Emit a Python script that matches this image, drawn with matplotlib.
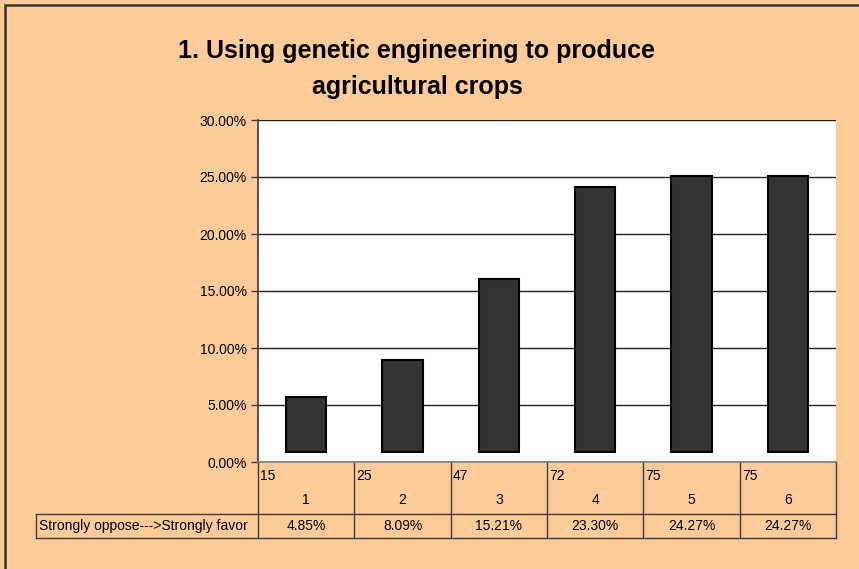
import matplotlib.pyplot as plt
import matplotlib.transforms as mtransforms
from matplotlib.patches import Rectangle
from matplotlib.ticker import FuncFormatter

plt.rcParams['font.family'] = ['Liberation Sans', 'DejaVu Sans']

# survey results
categories = ['1', '2', '3', '4', '5', '6']
counts = [15, 25, 47, 72, 75, 75]
percents = [4.85, 8.09, 15.21, 23.30, 24.27, 24.27]
row_label = 'Strongly oppose--->Strongly favor'
title = '1. Using genetic engineering to produce\nagricultural crops'

bg = '#FFCC99'
line_col = '#3a3a3a'
bar_lift = 0.85  # bars float slightly above the baseline
fs = 10

fig = plt.figure(figsize=(8.59, 5.69), dpi=100)
fig.patch.set_facecolor(bg)

# outer chart border (runs off the right and bottom edges)
fig.patches.append(Rectangle((5 / 859, -0.05), 1.2, 1 - 5 / 569 + 0.05,
                             transform=fig.transFigure, fill=False,
                             edgecolor='#333333', linewidth=1.8))

ax = fig.add_axes([258 / 859, 1 - 462 / 569, 578 / 859, 342 / 569])
ax.set_facecolor('white')

x = list(range(len(categories)))
ax.bar(x, percents, bottom=bar_lift, width=0.42, color='#333333',
       edgecolor='black', linewidth=1.5, zorder=3)

ax.set_xlim(-0.5, len(categories) - 0.5)
ax.set_ylim(0, 30)
ax.set_yticks([0, 5, 10, 15, 20, 25, 30])
ax.yaxis.set_major_formatter(FuncFormatter(lambda v, p: f'{v:.2f}%'))
ax.tick_params(axis='y', direction='out', length=5, width=1,
               color=line_col, labelsize=fs, pad=3)
ax.set_xticks([])
ax.grid(axis='y', color='#222222', linewidth=1, zorder=1)
for s in ['top', 'right']:
    ax.spines[s].set_visible(False)
ax.spines['left'].set_color(line_col)
ax.spines['left'].set_linewidth(1.2)
ax.spines['bottom'].set_color('#808080')
ax.spines['bottom'].set_linewidth(1.2)

# data table under the plot
tr = mtransforms.blended_transform_factory(ax.transData, ax.transAxes)
h = 342.0
y_mid = -52 / h
y_bot = -76 / h
left_x = (36 - 258) / 578
lk = dict(color=line_col, linewidth=1, clip_on=False)

for i in range(len(categories) + 1):
    ax.plot([i - 0.5, i - 0.5], [0, y_bot], transform=tr, **lk)
ax.plot([left_x, 1], [y_mid, y_mid], transform=ax.transAxes, **lk)
ax.plot([left_x, 1], [y_bot, y_bot], transform=ax.transAxes, **lk)
ax.plot([left_x, left_x], [y_mid, y_bot], transform=ax.transAxes, **lk)

for i, (c, n, p) in enumerate(zip(categories, counts, percents)):
    ax.text(i - 0.478, -14 / h, str(n), transform=tr, fontsize=fs,
            ha='left', va='center')
    ax.text(i, -38 / h, c, transform=tr, fontsize=fs,
            ha='center', va='center')
    ax.text(i, -64 / h, f'{p:.2f}%', transform=tr, fontsize=fs,
            ha='center', va='center')
ax.text(left_x + 3 / 578, -64 / h, row_label, transform=ax.transAxes,
        fontsize=fs, ha='left', va='center')

fig.text(417 / 859, 1 - 69 / 569, title, fontsize=18, fontweight='bold',
         ha='center', va='center', linespacing=1.58)

fig.savefig('out.png', dpi=100, facecolor=bg)
